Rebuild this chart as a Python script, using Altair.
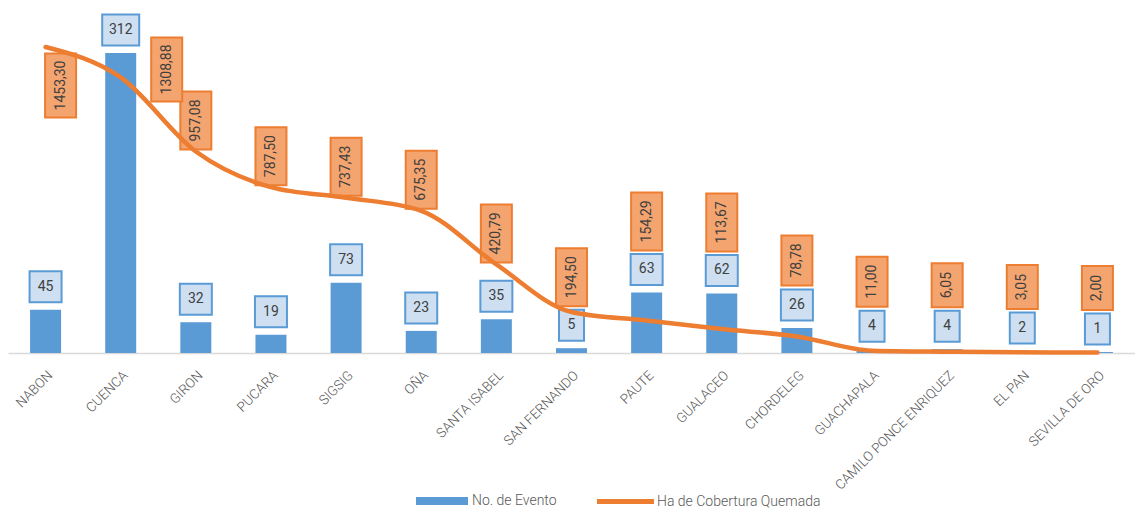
import altair as alt
import pandas as pd

municipios = ["NABON", "CUENCA", "GIRON", "PUCARA", "SIGSIG", "OÑA", "SANTA ISABEL",
              "SAN FERNANDO", "PAUTE", "GUALACEO", "CHORDELEG", "GUACHAPALA",
              "CAMILO PONCE ENRIQUEZ", "EL PAN", "SEVILLA DE ORO"]
eventos = [45, 312, 32, 19, 73, 23, 35, 5, 63, 62, 26, 4, 4, 2, 1]
hectareas = [1453.30, 1308.88, 957.08, 787.50, 737.43, 675.35, 420.79, 194.50,
             154.29, 113.67, 78.78, 11.00, 6.05, 3.05, 2.00]
serie_barras = "No. de Evento"
serie_linea = "Ha de Cobertura Quemada"

BLUE = "#5b9bd5"
ORANGE = "#ed7d31"
FONT = "Roboto, sans-serif"
W, H = 1127, 339
BMAX, LMAX = 352.6, 1610

df = pd.DataFrame({"municipio": municipios, "eventos": eventos, "ha": hectareas})
df["ev_lbl"] = df["eventos"].astype(str)
df["ha_lbl"] = [f"{v:.2f}".replace(".", ",") for v in hectareas]
df["ev_digits"] = df["ev_lbl"].str.len().astype(str)
df["ha_chars"] = df["ha_lbl"].str.len().astype(str)
df["s_bar"] = serie_barras
df["s_line"] = serie_linea

x_axis = alt.X("municipio:N", sort=municipios,
               scale=alt.Scale(paddingInner=0, paddingOuter=0),
               axis=alt.Axis(title=None, labelAngle=-45, labelFont=FONT, labelFontSize=13.5,
                             labelFontWeight=300, labelColor="#595959", ticks=False,
                             domainColor="#d9d9d9", domainWidth=1.5, labelPadding=15,
                             grid=False, labelLimit=400))
y_bar = alt.Y("eventos:Q", scale=alt.Scale(domain=[0, BMAX]), axis=None)
y_line = alt.Y("ha:Q", scale=alt.Scale(domain=[0, LMAX]), axis=None)
y_lbl = alt.Y("lbl_val:Q", scale=alt.Scale(domain=[0, LMAX]), axis=None)

legend_common = dict(title=None, orient="none", legendY=480, symbolSize=100, symbolOffset=21,
                     labelFont=FONT, labelFontSize=14, labelFontWeight=300,
                     labelColor="#595959", padding=0, labelLimit=400)

bars = alt.Chart(df).mark_bar(width=31).encode(
    x=x_axis, y=y_bar,
    color=alt.Color("s_bar:N", scale=alt.Scale(domain=[serie_barras], range=[BLUE]),
                    legend=alt.Legend(legendX=406, symbolType="M-5.2,-0.8H5.2V0.8H-5.2Z",
                                      labelOffset=23, symbolStrokeWidth=0, **legend_common)))

bar_paths = ["M-2.5,-3.1H2.5V3.1H-2.5Z", "M-3.2,-3.1H3.2V3.1H-3.2Z", "M-3.7,-3.1H3.7V3.1H-3.7Z"]
bar_boxes = alt.Chart(df).mark_point(filled=True, fill="#cddff1", stroke=BLUE, strokeWidth=2,
                                     opacity=1, fillOpacity=1, strokeOpacity=1, size=100,
                                     yOffset=-23).encode(
    x=x_axis, y=y_bar,
    shape=alt.Shape("ev_digits:N", scale=alt.Scale(domain=["1", "2", "3"], range=bar_paths),
                    legend=None))
bar_text = alt.Chart(df).mark_text(yOffset=-23, fontSize=14, font=FONT, color="#404040",
                                   baseline="middle").encode(
    x=x_axis, y=y_bar, text="ev_lbl:N")

line = alt.Chart(df).mark_line(strokeWidth=4.5, interpolate="monotone", strokeCap="round").encode(
    x=x_axis, y=y_line,
    stroke=alt.Stroke("s_line:N", scale=alt.Scale(domain=[serie_linea], range=[ORANGE]),
                      legend=alt.Legend(legendX=589, symbolType="M-5.7,0H5.7",
                                        symbolStrokeWidth=5, symbolFillColor="transparent",
                                        labelOffset=24, **legend_common)))

# label placement: above the line/bar label when room, else below the point, else beside it
lbl_base = alt.Chart(df).transform_calculate(
    ha_px=f"{H} - datum.ha*{H}/{LMAX}",
    bb_top=f"{H} - datum.eventos*{H}/{BMAX} - 42",
    lbl_h="7*length(datum.ha_lbl)+16",
).transform_calculate(
    bottom="min(datum.ha_px - 2, datum.bb_top)",
).transform_calculate(
    mode="(datum.bottom - datum.lbl_h) >= 0 ? 0 : "
         "(datum.bb_top > datum.ha_px + 6 + datum.lbl_h ? 1 : 2)",
).transform_calculate(
    cy="datum.mode == 0 ? datum.bottom - datum.lbl_h/2 : "
       "(datum.mode == 1 ? datum.ha_px + 6 + datum.lbl_h/2 : "
       "max(datum.ha_px - 8, datum.lbl_h/2 + 1))",
).transform_calculate(
    lbl_val=f"({H} - datum.cy)*{LMAX}/{H}",
)

ha_paths = ["M-3.1,-4.4H3.1V4.4H-3.1Z", "M-3.1,-5H3.1V5H-3.1Z",
            "M-3.1,-5.8H3.1V5.8H-3.1Z", "M-3.1,-6.4H3.1V6.4H-3.1Z"]


def line_labels(mode, dx):
    base = lbl_base.transform_filter(f"datum.mode == {mode}")
    boxes = base.mark_point(filled=True, fill="#f4a46e", stroke=ORANGE, strokeWidth=2,
                            opacity=1, fillOpacity=1, strokeOpacity=1, size=100,
                            xOffset=dx).encode(
        x=x_axis, y=y_lbl,
        shape=alt.Shape("ha_chars:N", scale=alt.Scale(domain=["4", "5", "6", "7"], range=ha_paths),
                        legend=None))
    texts = base.mark_text(angle=270, xOffset=dx, fontSize=14, font=FONT, color="#404040",
                           baseline="middle", align="center").encode(
        x=x_axis, y=y_lbl, text="ha_lbl:N")
    return [boxes, texts]


layers = [bars, bar_boxes, bar_text]
layers += line_labels(0, 0) + line_labels(1, 15) + line_labels(2, 46)
layers.append(line)

chart = alt.layer(*layers).resolve_scale(
    y="independent", shape="independent", color="independent", stroke="independent"
).properties(
    width=W, height=H, padding={"left": 0, "top": 2, "right": 0, "bottom": 0}
).configure_view(stroke=None)

chart.save("out.html", embed_options={"renderer": "svg", "actions": False})
